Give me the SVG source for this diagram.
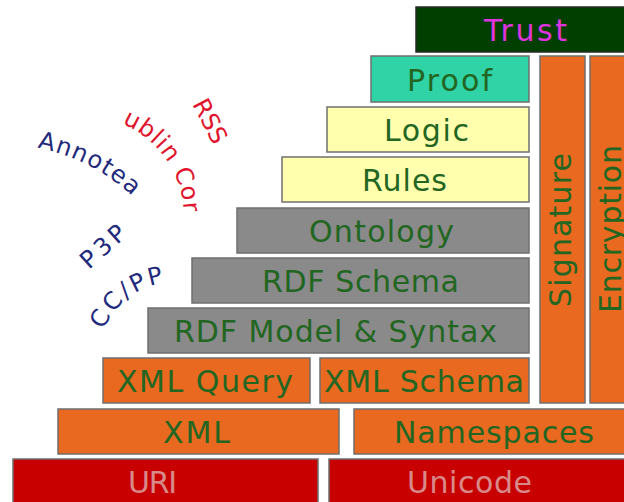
<svg xmlns="http://www.w3.org/2000/svg" width="624" height="502" viewBox="0 0 624 502">
<style>
.b{stroke:#6f6f6f;stroke-width:1.5}
.t{font-family:"DejaVu Sans",Verdana,sans-serif;font-size:30px;fill:#226622}
.y{fill:#ffffae}
.g{fill:#8a8a8a}
.o{fill:#e8691f}
.r{fill:#c80000}
.rt{fill:#d88a8a}
.lb{font-family:"DejaVu Sans",Verdana,sans-serif;font-size:24px;fill:#1f2a7c}
.lr{font-family:"DejaVu Sans",Verdana,sans-serif;font-size:24px;fill:#e0142c}
</style>
<defs>
<path id="pAnn" d="M33.3,146.9 A195,195 0 0 1 148.4,212.7"/>
<path id="pDub" d="M118.2,122.1 A101,101 0 0 1 184,217"/>
<path id="pCC" d="M102.6,332.7 A77,77 0 0 1 168.3,282.3"/>
</defs>
<rect width="624" height="502" fill="#ffffff"/>
<g id="trust"><rect x="416" y="7" width="212" height="45" fill="#003f00" stroke="#2a2a2a" stroke-width="1.5"/><text x="484" y="41" class="t" style="fill:#e033e0" textLength="83" lengthAdjust="spacing">Trust</text></g>
<g id="proof"><rect class="b" x="371" y="56" width="158" height="46" fill="#2fd3a6"/><text class="t" x="407" y="91" textLength="85" lengthAdjust="spacing">Proof</text></g>
<g id="logic"><rect class="b y" x="327" y="107" width="202" height="45"/><text class="t" x="384" y="141" textLength="85" lengthAdjust="spacing">Logic</text></g>
<g id="rules"><rect class="b y" x="282" y="157" width="247" height="45"/><text class="t" x="362" y="191" textLength="85" lengthAdjust="spacing">Rules</text></g>
<g id="ontology"><rect class="b g" x="237" y="208" width="292" height="45"/><text class="t" x="309" y="242" textLength="145" lengthAdjust="spacing">Ontology</text></g>
<g id="rdfschema"><rect class="b g" x="192" y="258" width="337" height="45"/><text class="t" x="262" y="292" textLength="197" lengthAdjust="spacing">RDF Schema</text></g>
<g id="rdfmodel"><rect class="b g" x="148" y="308" width="381" height="45"/><text class="t" x="174" y="342" textLength="323" lengthAdjust="spacing">RDF Model &amp; Syntax</text></g>
<g id="xmlquery"><rect class="b o" x="103" y="358" width="207" height="45"/><text class="t" x="117" y="392" textLength="176" lengthAdjust="spacing">XML Query</text></g>
<g id="xmlschema"><rect class="b o" x="320" y="358" width="209" height="45"/><text class="t" x="324" y="392" textLength="200" lengthAdjust="spacing">XML Schema</text></g>
<g id="xml"><rect class="b o" x="58" y="409" width="281" height="45"/><text class="t" x="163" y="443" textLength="67" lengthAdjust="spacing">XML</text></g>
<g id="namespaces"><rect class="b o" x="354" y="409" width="274" height="45"/><text class="t" x="394" y="443" textLength="200" lengthAdjust="spacing">Namespaces</text></g>
<g id="uri"><rect class="b r" x="13" y="459" width="305" height="47"/><text class="t rt" x="128" y="493" textLength="49" lengthAdjust="spacing">URI</text></g>
<g id="unicode"><rect class="b r" x="329" y="459" width="299" height="47"/><text class="t rt" x="407" y="493" textLength="125" lengthAdjust="spacing">Unicode</text></g>
<g id="signature"><rect class="b o" x="540" y="56" width="45" height="347"/><text class="t" transform="translate(571,307) rotate(-90)" textLength="154" lengthAdjust="spacing">Signature</text></g>
<g id="encryption"><rect class="b o" x="590" y="56" width="38" height="347"/><text class="t" transform="translate(621,313) rotate(-90)" textLength="168" lengthAdjust="spacing">Encryption</text></g>
<g id="annotea"><text class="lb"><textPath href="#pAnn" startOffset="4" textLength="108" lengthAdjust="spacing">Annotea</textPath></text></g>
<g id="dublincore"><text class="lr"><textPath href="#pDub" startOffset="4" textLength="114" lengthAdjust="spacing">ublin Cor</textPath></text></g>
<g id="rss"><text class="lr" transform="translate(192,104) rotate(62.6)" textLength="47" lengthAdjust="spacing">RSS</text></g>
<g id="p3p"><text class="lb" transform="translate(89,270) rotate(-41.9)" textLength="52" lengthAdjust="spacing">P3P</text></g>
<g id="ccpp"><text class="lb"><textPath href="#pCC" startOffset="3" textLength="80" lengthAdjust="spacing">CC/PP</textPath></text></g>
</svg>
